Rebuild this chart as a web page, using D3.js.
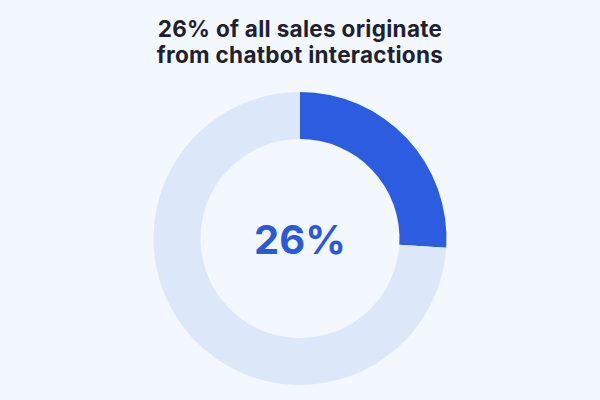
<!DOCTYPE html>
<html>
<head>
<meta charset="utf-8">
<script src="https://cdn.jsdelivr.net/npm/d3@7"></script>
<style>
  html, body { margin: 0; padding: 0; background: #f3f8fe; }
  svg { display: block; }
</style>
</head>
<body>
<div id="chart"></div>
<script>
// Chart data
var titleLines = ['26% of all sales originate', 'from chatbot interactions'];
var categories = ['Chatbot interactions', 'Other sales'];
var values = [26, 74];
var colors = ['#2c5ce0', '#dce7fa'];

var width = 600;
var height = 400;
var center = { x: 300, y: 238.5 };
var outerRadius = 146.5;
var innerRadius = 99.5;

var svg = d3.select('#chart')
  .append('svg')
  .attr('width', width)
  .attr('height', height);

svg.append('rect')
  .attr('width', width)
  .attr('height', height)
  .attr('fill', '#f3f8fe');

// Title
svg.append('text')
  .attr('x', width / 2)
  .attr('text-anchor', 'middle')
  .attr('font-family', 'Inter, "Noto Sans", sans-serif')
  .attr('font-weight', 700)
  .attr('font-size', 22.5)
  .attr('letter-spacing', 0.3)
  .attr('fill', '#1d2131')
  .selectAll('tspan')
  .data(titleLines)
  .enter()
  .append('tspan')
  .attr('x', width / 2)
  .attr('y', function (d, i) { return 37 + i * 26; })
  .text(function (d) { return d; });

// Donut
var pie = d3.pie().sort(null).value(function (d) { return d; });
var arc = d3.arc().innerRadius(innerRadius).outerRadius(outerRadius);

var g = svg.append('g')
  .attr('transform', 'translate(' + center.x + ',' + center.y + ')');

g.selectAll('path')
  .data(pie(values))
  .enter()
  .append('path')
  .attr('d', arc)
  .attr('fill', function (d, i) { return colors[i]; })
  .append('title')
  .text(function (d, i) { return categories[i] + ': ' + d.data + '%'; });

// Center label
g.append('text')
  .attr('text-anchor', 'middle')
  .attr('y', 15)
  .attr('font-family', 'Inter, "Noto Sans", sans-serif')
  .attr('font-weight', 700)
  .attr('font-size', 40)
  .attr('fill', '#2c5ad6')
  .text(values[0] + '%');
</script>
</body>
</html>
